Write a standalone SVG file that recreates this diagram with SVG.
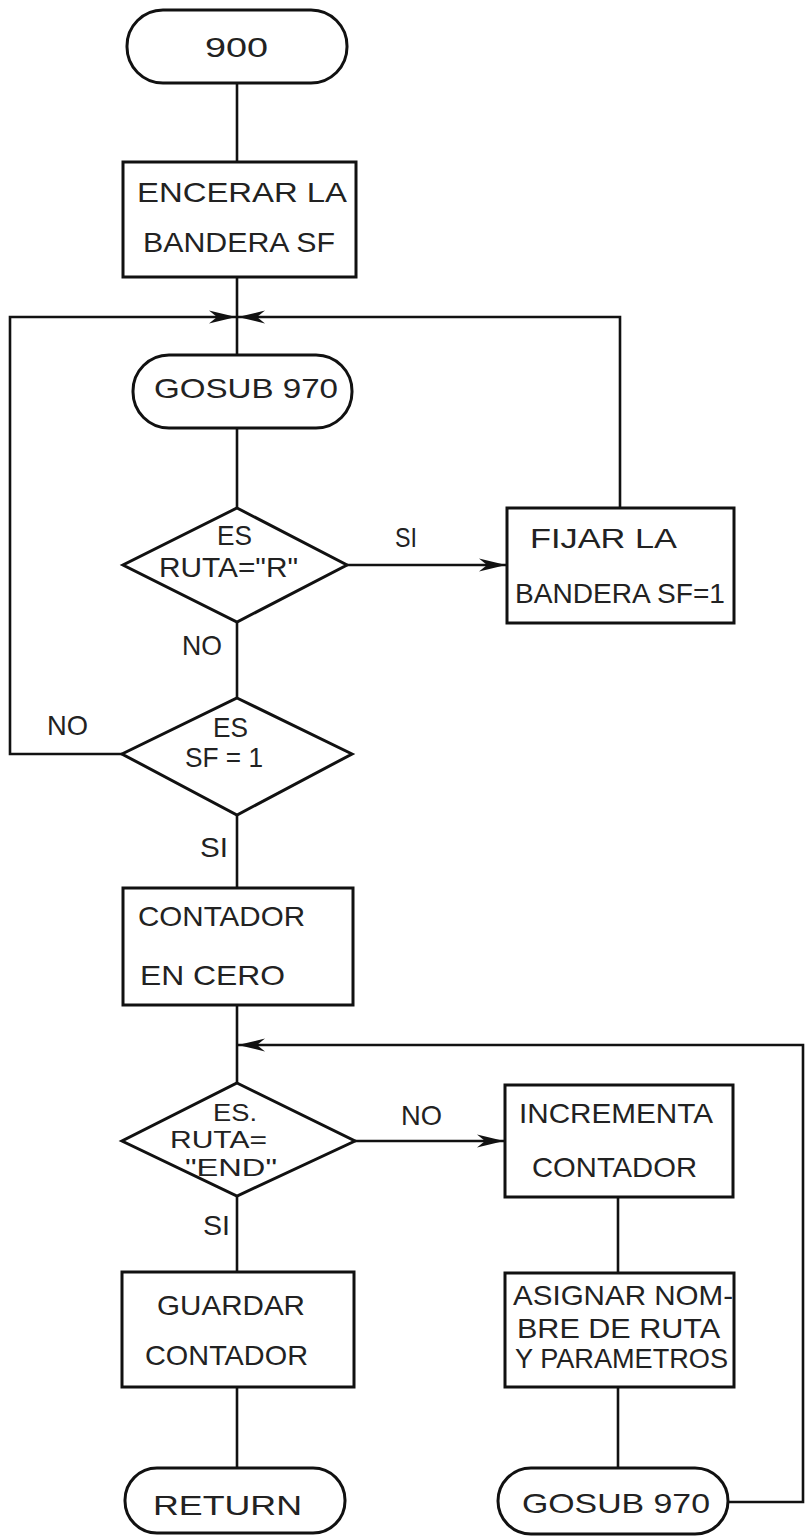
<svg xmlns="http://www.w3.org/2000/svg" width="805" height="1536" viewBox="0 0 805 1536">
<style>
.s{fill:#fff;stroke:#111;stroke-width:3}
.c{fill:none;stroke:#111;stroke-width:2.6}
text{font-family:"Liberation Sans",Arial,sans-serif;font-size:28px;fill:#222}
.sm{font-size:23px}
</style>
<defs>
<marker id="ah" markerUnits="userSpaceOnUse" viewBox="-28 -8 30 16" refX="0" refY="0" markerWidth="30" markerHeight="16" orient="auto">
<path d="M0,0 L-27,-6.5 L-19,0 L-27,6.5 Z" fill="#111"/>
</marker>
</defs>
<rect width="805" height="1536" fill="#fff"/>
<g id="connectors">
<line class="c" x1="237" y1="83" x2="237" y2="162"/>
<line class="c" x1="237" y1="277" x2="237" y2="355"/>
<line class="c" x1="237" y1="428" x2="237" y2="508"/>
<line class="c" x1="347" y1="565" x2="506" y2="565" marker-end="url(#ah)"/>
<path class="c" d="M620,508 V317 H238" marker-end="url(#ah)"/>
<line class="c" x1="237" y1="622" x2="237" y2="698"/>
<path class="c" d="M122,754 H10 V317 H236" marker-end="url(#ah)"/>
<line class="c" x1="237" y1="815" x2="237" y2="888"/>
<line class="c" x1="237" y1="1005" x2="237" y2="1083"/>
<line class="c" x1="355" y1="1141" x2="504" y2="1141" marker-end="url(#ah)"/>
<line class="c" x1="618" y1="1197" x2="618" y2="1273"/>
<line class="c" x1="618" y1="1387" x2="618" y2="1468"/>
<path class="c" d="M728,1502 H803 V1045 H238" marker-end="url(#ah)"/>
<line class="c" x1="237" y1="1196" x2="237" y2="1272"/>
<line class="c" x1="237" y1="1387" x2="237" y2="1468"/>
<text x="395" y="547" textLength="22" lengthAdjust="spacingAndGlyphs">SI</text>
<text x="182" y="655" textLength="40" lengthAdjust="spacingAndGlyphs">NO</text>
<text x="47" y="735" textLength="41" lengthAdjust="spacingAndGlyphs">NO</text>
<text x="200" y="857" textLength="28" lengthAdjust="spacingAndGlyphs">SI</text>
<text x="401" y="1125" textLength="41" lengthAdjust="spacingAndGlyphs">NO</text>
<text x="203" y="1235" textLength="27" lengthAdjust="spacingAndGlyphs">SI</text>
</g>
<g id="start">
<rect class="s" x="127" y="10" width="220" height="73" rx="36" ry="36"/>
<text x="205" y="57" textLength="63" lengthAdjust="spacingAndGlyphs">900</text>
</g>
<g id="encerar">
<rect class="s" x="123" y="162" width="233" height="115"/>
<text x="137" y="202" textLength="210" lengthAdjust="spacingAndGlyphs">ENCERAR LA</text>
<text x="143" y="252" textLength="192" lengthAdjust="spacingAndGlyphs">BANDERA SF</text>
</g>
<g id="gosub1">
<rect class="s" x="133" y="355" width="219" height="73" rx="36" ry="36"/>
<text x="154" y="398" textLength="184" lengthAdjust="spacingAndGlyphs">GOSUB 970</text>
</g>
<g id="dec1">
<polygon class="s" points="237,508 347,565 237,622 123,565"/>
<text x="217" y="545" textLength="35" lengthAdjust="spacingAndGlyphs">ES</text>
<text x="159" y="577" textLength="139" lengthAdjust="spacingAndGlyphs">RUTA="R"</text>
</g>
<g id="fijar">
<rect class="s" x="507" y="508" width="227" height="115"/>
<text x="530" y="548" textLength="147" lengthAdjust="spacingAndGlyphs">FIJAR LA</text>
<text x="515" y="603" textLength="210" lengthAdjust="spacingAndGlyphs">BANDERA SF=1</text>
</g>
<g id="dec2">
<polygon class="s" points="237,698 352,754 237,815 122,754"/>
<text x="213" y="737" textLength="35" lengthAdjust="spacingAndGlyphs">ES</text>
<text x="185" y="767" textLength="78" lengthAdjust="spacingAndGlyphs">SF = 1</text>
</g>
<g id="contador">
<rect class="s" x="123" y="888" width="230" height="117"/>
<text x="138" y="926" textLength="167" lengthAdjust="spacingAndGlyphs">CONTADOR</text>
<text x="140" y="985" textLength="145" lengthAdjust="spacingAndGlyphs">EN CERO</text>
</g>
<g id="dec3">
<polygon class="s" points="237,1083 355,1141 237,1196 122,1141"/>
<text class="sm" x="213" y="1121" textLength="44" lengthAdjust="spacingAndGlyphs">ES.</text>
<text class="sm" x="170" y="1148" textLength="97" lengthAdjust="spacingAndGlyphs">RUTA=</text>
<text class="sm" x="185" y="1176" textLength="92" lengthAdjust="spacingAndGlyphs">"END"</text>
</g>
<g id="incrementa">
<rect class="s" x="505" y="1085" width="228" height="112"/>
<text x="519" y="1123" textLength="194" lengthAdjust="spacingAndGlyphs">INCREMENTA</text>
<text x="532" y="1177" textLength="165" lengthAdjust="spacingAndGlyphs">CONTADOR</text>
</g>
<g id="asignar">
<rect class="s" x="505" y="1273" width="229" height="114"/>
<text x="513" y="1305" textLength="220" lengthAdjust="spacingAndGlyphs">ASIGNAR NOM-</text>
<text x="517" y="1338" textLength="203" lengthAdjust="spacingAndGlyphs">BRE DE RUTA</text>
<text x="515" y="1368" textLength="213" lengthAdjust="spacingAndGlyphs">Y PARAMETROS</text>
</g>
<g id="guardar">
<rect class="s" x="122" y="1272" width="232" height="115"/>
<text x="157" y="1315" textLength="148" lengthAdjust="spacingAndGlyphs">GUARDAR</text>
<text x="145" y="1365" textLength="163" lengthAdjust="spacingAndGlyphs">CONTADOR</text>
</g>
<g id="return">
<rect class="s" x="125" y="1468" width="220" height="65" rx="32" ry="32"/>
<text x="153" y="1515" textLength="149" lengthAdjust="spacingAndGlyphs">RETURN</text>
</g>
<g id="gosub2">
<rect class="s" x="498" y="1468" width="230" height="66" rx="33" ry="33"/>
<text x="522" y="1513" textLength="188" lengthAdjust="spacingAndGlyphs">GOSUB 970</text>
</g>
</svg>
